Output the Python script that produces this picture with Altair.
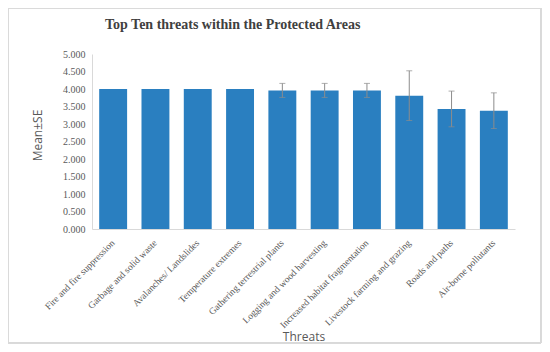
import altair as alt
import pandas as pd

threats = ["Fire and fire suppression", "Garbage and solid waste", "Avalanches/ Landslides",
           "Temperature extremes", "Gathering terrestrial plants", "Logging and wood harvesting",
           "Increased habitat fragmentation", "Livestock farming and grazing", "Roads and paths",
           "Air-borne pollutants"]
means = [4.00, 4.00, 4.00, 4.00, 3.96, 3.96, 3.96, 3.81, 3.43, 3.38]
se = [0.0, 0.0, 0.0, 0.0, 0.20, 0.20, 0.20, 0.71, 0.51, 0.51]
yticks = [0, 0.5, 1, 1.5, 2, 2.5, 3, 3.5, 4, 4.5, 5]

df = pd.DataFrame({"Threat": threats, "Mean": means, "SE": se})
df["lo"] = df["Mean"] - df["SE"]
df["hi"] = df["Mean"] + df["SE"]

W, H = 423, 175
PL, PT, PR, PB = 84, 46, 27, 115

xaxis = alt.Axis(labelAngle=-45, labelAlign="right", labelBaseline="middle",
                 labelFont="Liberation Serif", labelFontSize=9.5, labelColor="#595959",
                 labelPadding=12, ticks=False, domainColor="#d9d9d9",
                 labelOverlap=False,
                 titleFont="Open Sans", titleFontSize=12, titleColor="#595959",
                 titleFontWeight="normal", titleY=102)
yaxis = alt.Axis(values=yticks, format=".3f",
                 grid=False, ticks=False, domainColor="#d9d9d9",
                 labelOverlap=False,
                 labelFont="Liberation Serif", labelFontSize=10, labelColor="#595959",
                 labelPadding=7,
                 titleFont="Open Sans", titleFontSize=12, titleColor="#595959",
                 titleFontWeight="normal", titleX=-48, titleY=81)
yscale = alt.Scale(domain=[0, 5])
xscale = alt.Scale(paddingInner=0.34, paddingOuter=0.17)

def xenc():
    return alt.X("Threat:N", sort=threats, title="Threats", scale=xscale, axis=xaxis)

def yenc(field):
    return alt.Y(field, title="Mean±SE", scale=yscale, axis=yaxis)

bars = alt.Chart(df).mark_bar(color="#2a7fc0").encode(x=xenc(), y=yenc("Mean:Q"))

eb = alt.Chart(df).transform_filter("datum.SE > 0")
rule = eb.mark_rule(color="#8c8c8c", strokeWidth=1).encode(
    x=xenc(), y=yenc("lo:Q"), y2="hi:Q")
cap_hi = eb.mark_tick(color="#8c8c8c", thickness=1, size=6, orient="horizontal").encode(
    x=xenc(), y=yenc("hi:Q"))
cap_lo = eb.mark_tick(color="#8c8c8c", thickness=1, size=6, orient="horizontal").encode(
    x=xenc(), y=yenc("lo:Q"))

frame = alt.Chart(df).mark_rect(fill=None, stroke="#d9d9d9", strokeWidth=1).encode(
    x=alt.value(-PL), x2=alt.value(W + PR - 1), y=alt.value(-PT), y2=alt.value(H + PB - 1))

chart = alt.layer(bars, rule, cap_hi, cap_lo, frame).properties(
    width=W, height=H,
    title=alt.TitleParams("Top Ten threats within the Protected Areas", anchor="start",
                          frame="group", dx=13, offset=-35, baseline="alphabetic",
                          font="Liberation Serif",
                          fontSize=14, fontWeight="bold", color="#404040"),
    autosize=alt.AutoSizeParams(type="none"),
    padding={"left": PL, "top": PT, "right": PR, "bottom": PB},
).configure_view(stroke=None).configure_axis(
    labelFont="Liberation Serif", labelColor="#595959"
)

chart.save("out.html", embed_options={"renderer": "svg", "actions": False})
